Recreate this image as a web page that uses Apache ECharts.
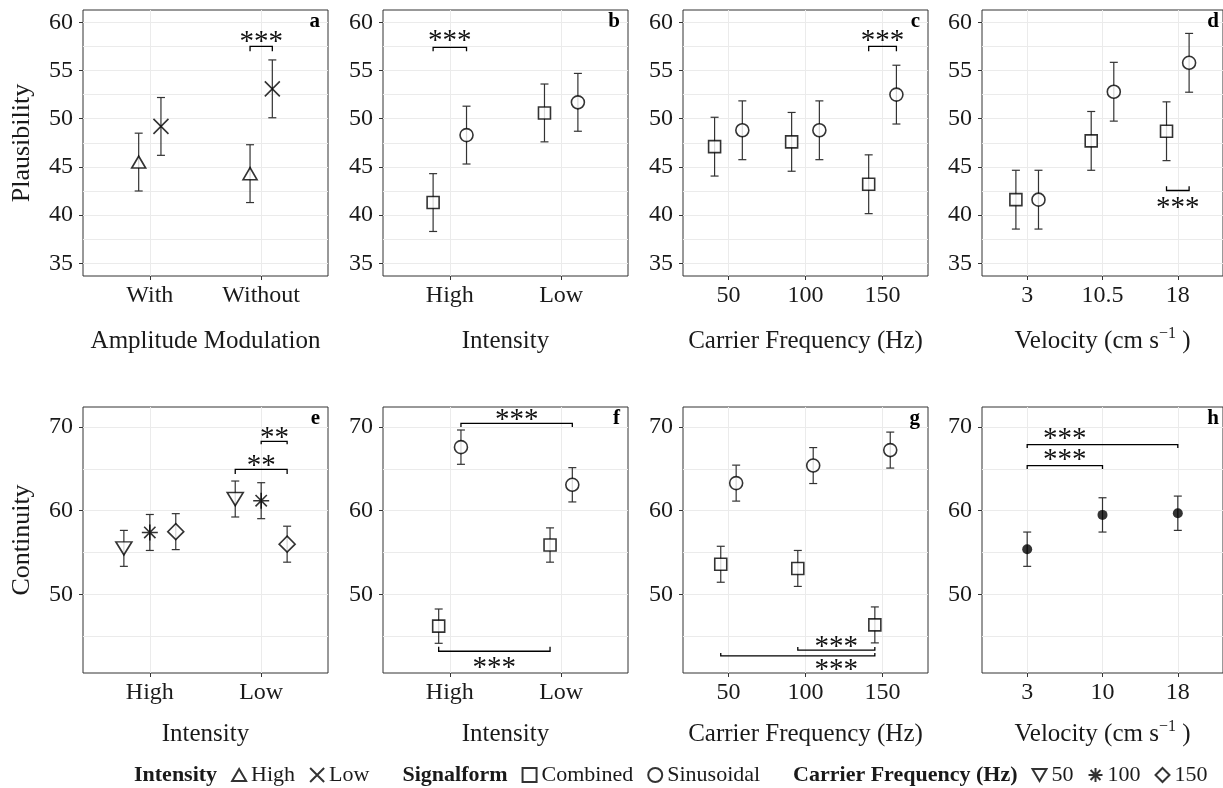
<!DOCTYPE html>
<html>
<head>
<meta charset="utf-8">
<script src="https://cdn.jsdelivr.net/npm/echarts@6/dist/echarts.min.js"></script>
<style>
  html, body { margin: 0; padding: 0; background: #fff; }
  #chart { width: 1223px; height: 788px; }
</style>
</head>
<body>
<div id="chart"></div>
<script>
// ---------- values ----------
// top row: Plausibility (means, half-width of error bar)
var amCats = ['With', 'Without'];
var aHigh = [45.5, 44.3], aHighErr = [3.0, 3.0];
var aLow = [49.2, 53.1], aLowErr = [3.0, 3.0];

var intCats = ['High', 'Low'];
var bComb = [41.3, 50.6], bCombErr = [3.0, 3.0];
var bSin = [48.3, 51.7], bSinErr = [3.0, 3.0];

var freqs = [50, 100, 150];
var cComb = [47.1, 47.6, 43.2], cCombErr = [3.05, 3.05, 3.05];
var cSin = [48.8, 48.8, 52.5], cSinErr = [3.05, 3.05, 3.05];

var velCatsD = ['3', '10.5', '18'];
var dComb = [41.6, 47.7, 48.7], dCombErr = [3.05, 3.05, 3.05];
var dSin = [41.6, 52.8, 55.8], dSinErr = [3.05, 3.05, 3.05];

// bottom row: Continuity
var e50 = [55.5, 61.4], e100 = [57.4, 61.2], e150 = [57.5, 56.0];
var eErr = [2.15, 2.15];
var fComb = [46.2, 55.9], fSin = [67.6, 63.1], fErr = [2.05, 2.05];
var gComb = [53.6, 53.1, 46.35], gSin = [63.3, 65.4, 67.25];
var gErr = [2.15, 2.15, 2.15];
var velCatsH = ['3', '10', '18'];
var hMean = [55.4, 59.5, 59.7], hErr = [2.05, 2.05, 2.05];

// significance brackets: [x1, x2, line y, tip y, label x, label y, label]
var aSig = [[1.9, 2.1, 57.5, 57.0, 2.0, 58.4, '***']];
var bSig = [[0.85, 1.15, 57.4, 57.0, 1.0, 58.5, '***']];
var cSig = [[141, 159, 57.5, 57.0, 150, 58.5, '***']];
var dSig = [[2.85, 3.15, 42.55, 43.0, 3.0, 41.2, '***']];
var eSig = [[2.0, 2.233, 68.3, 67.95, 2.12, 69.3, '**'],
            [1.767, 2.233, 64.95, 64.4, 2.0, 65.95, '**']];
var fSig = [[1.1, 2.1, 70.45, 70.0, 1.6, 71.45, '***'],
            [0.9, 1.9, 43.2, 43.75, 1.4, 41.8, '***']];
var gSig = [[95, 145, 43.33, 43.7, 120, 44.25, '***'],
            [45, 145, 42.65, 43.0, 120, 41.5, '***']];
var hSig = [[1, 3, 67.9, 67.5, 1.5, 69.1, '***'],
            [1, 2, 65.4, 65.0, 1.5, 66.6, '***']];

// ---------- look ----------
var FONT = '"Liberation Serif", "Times New Roman", serif';
var INK = '#1a1a1a';
var GRIDC = '#ebebeb';
var SYM = {
  triUp: 'path://M5,0L10,8.66L0,8.66Z',
  triDown: 'path://M0,0L10,0L5,8.66Z',
  square: 'path://M0,0H10V10H0Z',
  circle: 'circle',
  diamond: 'path://M5,0L10,5L5,10L0,5Z',
  cross: 'path://M0,0L10,10M10,0L0,10',
  star: 'path://M5,0V10M0,5H10M1.46,1.46L8.54,8.54M8.54,1.46L1.46,8.54'
};
var SIZE = { triUp: [14, 12], triDown: [16, 13], square: 12, circle: 13,
             diamond: 16, cross: 15, star: 16 };

var colLeft = [83, 383, 683, 982], panelW = 245;
var rowTop = [10, 407], panelH = 266;
var rowNameGap = [50, 46];
var yTop = { min: 33.68, max: 61.28, major: [35, 40, 45, 50, 55, 60],
             minor: [37.5, 42.5, 47.5, 52.5, 57.5] };
var yBot = { min: 40.6, max: 72.4, major: [50, 60, 70], minor: [45, 55, 65] };
var velName = 'Velocity (cm s{sup|\u22121} )';

function disc(cats) {
  return { min: 0.4, max: cats.length + 0.6,
           ticks: cats.map(function (c, i) { return i + 1; }),
           fmt: function (v) { return cats[Math.round(v) - 1]; },
           pos: cats.map(function (c, i) { return i + 1; }) };
}
function cont() {
  return { min: 20.5, max: 179.5, ticks: freqs, fmt: function (v) { return String(v); }, pos: freqs };
}

var panels = [
  { r: 0, c: 0, x: disc(amCats), y: yTop, xName: 'Amplitude Modulation', yName: 'Plausibility', letter: 'a',
    groups: [{ name: 'High', sym: 'triUp', m: aHigh, e: aHighErr, off: -0.1 },
             { name: 'Low', sym: 'cross', m: aLow, e: aLowErr, off: 0.1 }], sig: aSig },
  { r: 0, c: 1, x: disc(intCats), y: yTop, xName: 'Intensity', letter: 'b',
    groups: [{ name: 'Combined', sym: 'square', m: bComb, e: bCombErr, off: -0.15 },
             { name: 'Sinusoidal', sym: 'circle', m: bSin, e: bSinErr, off: 0.15 }], sig: bSig },
  { r: 0, c: 2, x: cont(), y: yTop, xName: 'Carrier Frequency (Hz)', letter: 'c',
    groups: [{ name: 'Combined', sym: 'square', m: cComb, e: cCombErr, off: -9 },
             { name: 'Sinusoidal', sym: 'circle', m: cSin, e: cSinErr, off: 9 }], sig: cSig },
  { r: 0, c: 3, x: disc(velCatsD), y: yTop, xName: velName, letter: 'd',
    groups: [{ name: 'Combined', sym: 'square', m: dComb, e: dCombErr, off: -0.15 },
             { name: 'Sinusoidal', sym: 'circle', m: dSin, e: dSinErr, off: 0.15 }], sig: dSig },
  { r: 1, c: 0, x: disc(intCats), y: yBot, xName: 'Intensity', yName: 'Continuity', letter: 'e',
    groups: [{ name: '50', sym: 'triDown', m: e50, e: eErr, off: -0.233 },
             { name: '100', sym: 'star', m: e100, e: eErr, off: 0 },
             { name: '150', sym: 'diamond', m: e150, e: eErr, off: 0.233 }], sig: eSig },
  { r: 1, c: 1, x: disc(intCats), y: yBot, xName: 'Intensity', letter: 'f',
    groups: [{ name: 'Combined', sym: 'square', m: fComb, e: fErr, off: -0.1 },
             { name: 'Sinusoidal', sym: 'circle', m: fSin, e: fErr, off: 0.1 }], sig: fSig },
  { r: 1, c: 2, x: cont(), y: yBot, xName: 'Carrier Frequency (Hz)', letter: 'g',
    groups: [{ name: 'Combined', sym: 'square', m: gComb, e: gErr, off: -5 },
             { name: 'Sinusoidal', sym: 'circle', m: gSin, e: gErr, off: 5 }], sig: gSig },
  { r: 1, c: 3, x: disc(velCatsH), y: yBot, xName: velName, letter: 'h',
    groups: [{ name: 'Velocity', sym: 'dot', m: hMean, e: hErr, off: 0 }], sig: hSig }
];

function errorBar(params, api) {
  var x = api.value(0);
  var top = api.coord([x, api.value(2)]), bot = api.coord([x, api.value(1)]);
  var cap = 4;
  var st = { stroke: '#333', lineWidth: 1.2 };
  return { type: 'group', children: [
    { type: 'line', shape: { x1: top[0], y1: top[1], x2: bot[0], y2: bot[1] }, style: st },
    { type: 'line', shape: { x1: top[0] - cap, y1: top[1], x2: top[0] + cap, y2: top[1] }, style: st },
    { type: 'line', shape: { x1: bot[0] - cap, y1: bot[1], x2: bot[0] + cap, y2: bot[1] }, style: st }
  ] };
}

function bracketRenderer(list) {
  return function (params, api) {
    var s = list[params.dataIndex];
    var p1 = api.coord([s[0], s[2]]), p2 = api.coord([s[1], s[2]]);
    var tip = api.coord([s[0], s[3]])[1];
    var lp = api.coord([s[4], s[5]]);
    return { type: 'group', children: [
      { type: 'polyline', shape: { points: [[p1[0], tip], [p1[0], p1[1]], [p2[0], p2[1]], [p2[0], tip]] },
        style: { stroke: '#000', fill: 'none', lineWidth: 1.3 } },
      { type: 'text', x: lp[0], y: lp[1] + 5,
        style: { text: s[6], font: '29px ' + FONT, fill: '#111', align: 'center', verticalAlign: 'middle' } }
    ] };
  };
}

var grids = [], xAxes = [], yAxes = [], series = [], graphics = [];

panels.forEach(function (p, i) {
  var left = colLeft[p.c], top = rowTop[p.r];
  grids.push({ left: left, top: top, width: panelW, height: panelH, show: true,
               borderColor: '#333', borderWidth: 1, backgroundColor: '#fff' });
  xAxes.push({
    gridIndex: i, type: 'value', min: p.x.min, max: p.x.max,
    axisLine: { show: false },
    axisTick: { length: 4, lineStyle: { color: '#333', width: 1 }, customValues: p.x.ticks },
    axisLabel: { customValues: p.x.ticks, formatter: p.x.fmt, margin: 8,
                 fontFamily: FONT, fontSize: 24, color: INK },
    splitLine: { show: true, lineStyle: { color: GRIDC, width: 1 } },
    name: p.xName, nameLocation: 'middle', nameGap: rowNameGap[p.r],
    nameTextStyle: { fontFamily: FONT, fontSize: 25, color: INK, lineHeight: 30,
                     rich: { sup: { fontFamily: FONT, fontSize: 16, lineHeight: 16, verticalAlign: 'top', color: INK } } }
  });
  yAxes.push({
    gridIndex: i, type: 'value', min: p.y.min, max: p.y.max, position: 'left',
    axisLine: { show: false },
    axisTick: { length: 4, lineStyle: { color: '#333', width: 1 }, customValues: p.y.major },
    axisLabel: { customValues: p.y.major, margin: 10, fontFamily: FONT, fontSize: 24, color: INK },
    splitLine: { show: true, lineStyle: { color: GRIDC, width: 1 } },
    name: p.yName || '', nameLocation: 'middle', nameGap: 48,
    nameTextStyle: { fontFamily: FONT, fontSize: 26, color: INK }
  });
  yAxes.push({
    gridIndex: i, type: 'value', min: p.y.min, max: p.y.max, position: 'left',
    axisLine: { show: false },
    axisTick: { show: false, customValues: p.y.minor },
    axisLabel: { show: false },
    splitLine: { show: true, lineStyle: { color: GRIDC, width: 1 } }
  });

  p.groups.forEach(function (g) {
    var pts = g.m.map(function (v, k) { return [p.x.pos[k] + g.off, v]; });
    var bars = g.m.map(function (v, k) { return [p.x.pos[k] + g.off, v - g.e[k], v + g.e[k]]; });
    series.push({ type: 'custom', xAxisIndex: i, yAxisIndex: 2 * i, z: 1, silent: true,
                  renderItem: errorBar, data: bars, encode: { x: 0, y: [1, 2] } });
    var sc = { type: 'scatter', name: g.name, xAxisIndex: i, yAxisIndex: 2 * i, z: 3, data: pts };
    if (g.sym === 'dot') {
      sc.symbol = 'circle'; sc.symbolSize = 10; sc.itemStyle = { color: '#000' };
    } else {
      sc.symbol = SYM[g.sym]; sc.symbolSize = SIZE[g.sym];
      sc.itemStyle = { color: '#fff', borderColor: '#000', borderWidth: 1.6 };
    }
    series.push(sc);
  });

  series.push({ type: 'custom', xAxisIndex: i, yAxisIndex: 2 * i, z: 4, silent: true,
                renderItem: bracketRenderer(p.sig),
                data: p.sig.map(function (s) { return [s[0], s[1], s[2], s[3], s[4], s[5]]; }),
                encode: { x: [0, 1, 4], y: [2, 3, 5] } });

  graphics.push({ type: 'text', x: left + panelW - 8, y: top + 12, z: 10,
                  style: { text: p.letter, font: 'bold 21px ' + FONT, fill: '#000',
                           align: 'right', verticalAlign: 'middle' } });
});

// legend group headers as empty series so they can sit inside the legend row
['Intensity', 'Signalform', 'Carrier Frequency (Hz)'].forEach(function (h) {
  series.push({ type: 'scatter', name: h, xAxisIndex: 0, yAxisIndex: 0, data: [] });
});
function head(n) { return { name: n, icon: 'none', textStyle: { fontWeight: 'bold' } }; }

var chart = echarts.init(document.getElementById('chart'));
chart.setOption({
  backgroundColor: '#fff',
  animation: false,
  grid: grids,
  xAxis: xAxes,
  yAxis: yAxes,
  series: series,
  graphic: graphics,
  legend: {
    left: 110, top: 759, selectedMode: false,
    itemWidth: 14, itemHeight: 14, itemGap: 14,
    textStyle: { fontFamily: FONT, fontSize: 22, color: INK },
    data: [head('Intensity'), 'High', 'Low', head('Signalform'), 'Combined', 'Sinusoidal',
           head('Carrier Frequency (Hz)'), '50', '100', '150']
  }
});
</script>
</body>
</html>
